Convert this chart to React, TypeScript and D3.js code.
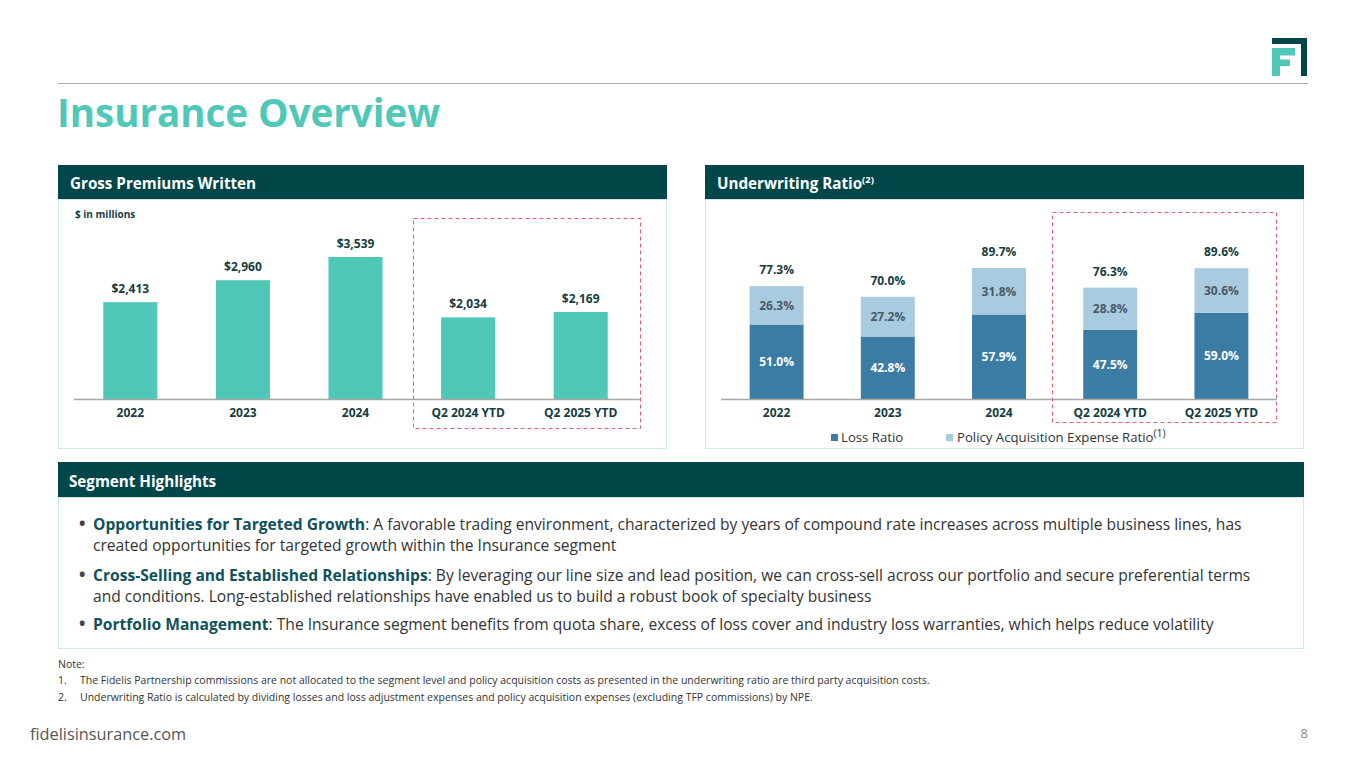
import React from "react";
import * as d3 from "d3";

const FONT = "'Open Sans', 'Noto Sans', sans-serif";

const gpwCategories = ["2022", "2023", "2024", "Q2 2024 YTD", "Q2 2025 YTD"];
const gpwValues = [2413, 2960, 3539, 2034, 2169];

const uwCategories = ["2022", "2023", "2024", "Q2 2024 YTD", "Q2 2025 YTD"];
const lossRatio = [51.0, 42.8, 57.9, 47.5, 59.0];
const acqRatio = [26.3, 27.2, 31.8, 28.8, 30.6];
const totalRatio = [77.3, 70.0, 89.7, 76.3, 89.6];

const legendLabels = ["Loss Ratio", "Policy Acquisition Expense Ratio"];

const bullets = [
  {
    bold: "Opportunities for Targeted Growth",
    lines: [
      ": A favorable trading environment, characterized by years of compound rate increases across multiple business lines, has",
      "created opportunities for targeted growth within the Insurance segment",
    ],
  },
  {
    bold: "Cross-Selling and Established Relationships",
    lines: [
      ": By leveraging our line size and lead position, we can cross-sell across our portfolio and secure preferential terms",
      "and conditions. Long-established relationships have enabled us to build a robust book of specialty business",
    ],
  },
  {
    bold: "Portfolio Management",
    lines: [
      ": The Insurance segment benefits from quota share, excess of loss cover and industry loss warranties, which helps reduce volatility",
    ],
  },
];

const notes = [
  "The Fidelis Partnership commissions are not allocated to the segment level and policy acquisition costs as presented in the underwriting ratio are third party acquisition costs.",
  "Underwriting Ratio is calculated by dividing losses and loss adjustment expenses and policy acquisition expenses (excluding TFP commissions) by NPE.",
];

const C = {
  teal: "#4fc8b8",
  dark: "#01474a",
  border: "#cfe8ec",
  loss: "#3b7ca4",
  acq: "#a9cbdf",
  label: "#163d3f",
  red: "#e0606e",
  text: "#333333",
  boldText: "#0f525a",
};

function GPWChart() {
  const x = d3.scaleBand<string>().domain(gpwCategories).range([74, 637]).paddingInner(0.52).paddingOuter(0.26);
  const y = d3.scaleLinear().domain([0, d3.max(gpwValues) as number]).range([399, 257]);
  const fmt = d3.format("$,");
  return (
    <g>
      {gpwCategories.map((c, i) => (
        <g key={c}>
          <rect x={x(c)} y={y(gpwValues[i])} width={x.bandwidth()} height={y(0) - y(gpwValues[i])} fill={C.teal} />
          <text x={(x(c) as number) + x.bandwidth() / 2} y={y(gpwValues[i]) - 9} textAnchor="middle" fontSize={12} fontWeight={700} fill={C.label}>
            {fmt(gpwValues[i])}
          </text>
          <text x={(x(c) as number) + x.bandwidth() / 2} y={417} textAnchor="middle" fontSize={12} fontWeight={700} fill={C.label}>
            {c}
          </text>
        </g>
      ))}
      <line x1={74} x2={641} y1={399.5} y2={399.5} stroke="#a6a6a6" strokeWidth={1.5} />
      <rect x={413.5} y={218.5} width={227} height={210} fill="none" stroke={C.red} strokeDasharray="4,3" strokeWidth={1} />
    </g>
  );
}

function UWChart() {
  const x = d3.scaleBand<string>().domain(uwCategories).range([721, 1277]).paddingInner(0.515).paddingOuter(0.2575);
  const y = d3.scaleLinear().domain([0, 100]).range([399, 253]);
  const rows = uwCategories.map((c, i) => ({ cat: c, loss: lossRatio[i], acq: acqRatio[i] }));
  const stack = d3.stack<any>().keys(["loss", "acq"])(rows);
  const fills = [C.loss, C.acq];
  const labelFills = ["#ffffff", "#4b5a66"];
  return (
    <g>
      {stack.map((s, si) => (
        <g key={s.key}>
          {s.map((d, i) => {
            const cx = (x(uwCategories[i]) as number) + x.bandwidth() / 2;
            return (
              <g key={i}>
                <rect x={x(uwCategories[i])} y={y(d[1])} width={x.bandwidth()} height={y(d[0]) - y(d[1])} fill={fills[si]} />
                <text x={cx} y={(y(d[0]) + y(d[1])) / 2 + 4.5} textAnchor="middle" fontSize={12} fontWeight={700} fill={labelFills[si]}>
                  {(d[1] - d[0]).toFixed(1)}%
                </text>
              </g>
            );
          })}
        </g>
      ))}
      {uwCategories.map((c, i) => {
        const cx = (x(c) as number) + x.bandwidth() / 2;
        return (
          <g key={c}>
            <text x={cx} y={y(totalRatio[i]) - 12} textAnchor="middle" fontSize={12} fontWeight={700} fill={C.label}>
              {totalRatio[i].toFixed(1)}%
            </text>
            <text x={cx} y={417} textAnchor="middle" fontSize={12} fontWeight={700} fill={C.label}>
              {c}
            </text>
          </g>
        );
      })}
      <line x1={721} x2={1277} y1={399.5} y2={399.5} stroke="#a6a6a6" strokeWidth={1.5} />
      <rect x={1052.5} y={212.5} width={224} height={210} fill="none" stroke={C.red} strokeDasharray="4,3" strokeWidth={1} />
      {/* legend */}
      <rect x={831} y={434} width={7} height={7} fill={C.loss} />
      <text x={841} y={441.5} fontSize={13.2} fill={C.text}>{legendLabels[0]}</text>
      <rect x={946} y={434} width={7} height={7} fill={C.acq} />
      <text x={957} y={441.5} fontSize={13.2} fill={C.text}>
        {legendLabels[1]}
        <tspan fontSize={10.5} dy={-5}>(1)</tspan>
      </text>
    </g>
  );
}

export default function App() {
  const bulletBaselines = [[529.5, 550.5], [580.5, 601.5], [630]];
  return (
    <div style={{ position: "absolute", left: 0, top: 0 }}>
      <svg width={1365} height={768} viewBox="0 0 1365 768" style={{ display: "block", fontFamily: FONT }}>
        <rect width={1365} height={768} fill="#ffffff" />
        {/* top rule */}
        <line x1={58} x2={1308} y1={83.5} y2={83.5} stroke="#a8a8a8" strokeWidth={1} />
        {/* logo */}
        <rect x={1272} y={38} width={35} height={6} fill={C.dark} />
        <rect x={1301} y={38} width={6} height={38} fill={C.dark} />
        <rect x={1272} y={48} width={8} height={28} fill={C.teal} />
        <rect x={1272} y={48} width={23} height={7.5} fill={C.teal} />
        <rect x={1272} y={59.5} width={18} height={6.5} fill={C.teal} />
        {/* title */}
        <text x={57} y={127} fontSize={38.5} fontWeight={700} fill={C.teal}>Insurance Overview</text>

        {/* left panel */}
        <rect x={58.5} y={199.5} width={608} height={249} fill="none" stroke={C.border} strokeWidth={1} />
        <rect x={58} y={165} width={609} height={34} fill={C.dark} />
        <text x={70} y={188.5} fontSize={15.2} fontWeight={700} fill="#ffffff">Gross Premiums Written</text>
        <text x={75} y={218} fontSize={10} fontWeight={700} fill={C.label}>$ in millions</text>
        <GPWChart />

        {/* right panel */}
        <rect x={705.5} y={199.5} width={598} height={249} fill="none" stroke={C.border} strokeWidth={1} />
        <rect x={705} y={165} width={599} height={34} fill={C.dark} />
        <text x={717} y={188.5} fontSize={15.2} fontWeight={700} fill="#ffffff">
          Underwriting Ratio<tspan fontSize={9.5} dy={-6}>(2)</tspan>
        </text>
        <UWChart />

        {/* segment highlights */}
        <rect x={58.5} y={497.5} width={1245} height={151} fill="none" stroke={C.border} strokeWidth={1} />
        <rect x={58} y={462} width={1246} height={35} fill={C.dark} />
        <text x={69} y={486.5} fontSize={15.2} fontWeight={700} fill="#ffffff">Segment Highlights</text>
        {bullets.map((b, bi) => (
          <g key={bi}>
            <text x={79} y={bulletBaselines[bi][0]} fontSize={17} fontWeight={700} fill="#444">•</text>
            {b.lines.map((ln, li) => (
              <text key={li} x={93} y={bulletBaselines[bi][li]} fontSize={15.6} fill={C.text}>
                {li === 0 ? <tspan fontWeight={700} fill={C.boldText}>{b.bold}</tspan> : null}
                {ln}
              </text>
            ))}
          </g>
        ))}

        {/* notes */}
        <text x={58} y={667.5} fontSize={10.5} fill={C.text}>Note:</text>
        {notes.map((n, i) => (
          <g key={i}>
            <text x={58} y={684 + i * 16.5} fontSize={10.5} fill={C.text}>{i + 1}.</text>
            <text x={80} y={684 + i * 16.5} fontSize={10.5} fill={C.text}>{n}</text>
          </g>
        ))}

        {/* footer */}
        <text x={30} y={740} fontSize={16.3} fill="#555555">fidelisinsurance.com</text>
        <text x={1308} y={738} fontSize={13} fill="#8a8a8a" textAnchor="end">8</text>
      </svg>
    </div>
  );
}
